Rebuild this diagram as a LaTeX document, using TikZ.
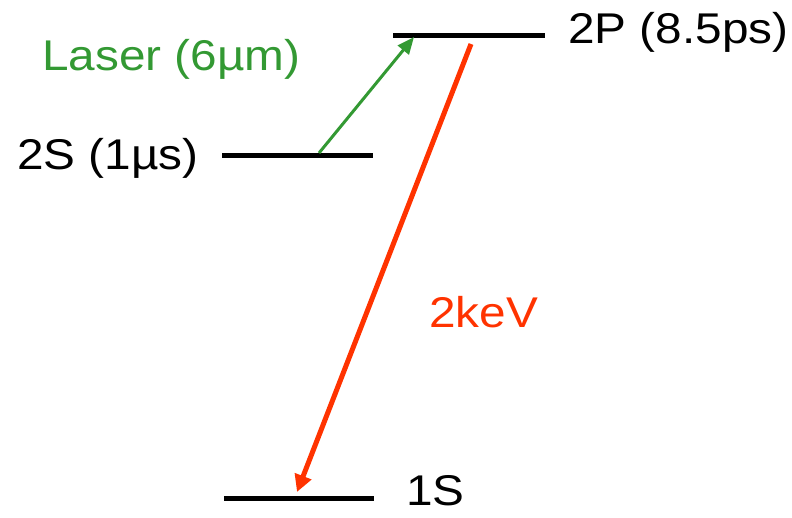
\documentclass[tikz,border=0pt]{standalone}
\usepackage{fontspec}
\setmainfont{Liberation Sans}
\usetikzlibrary{arrows.meta}
\definecolor{lasergreen}{RGB}{51,153,51}
\definecolor{xred}{RGB}{255,51,0}
\newcommand{\wide}[1]{\scalebox{1.11}[1]{#1}}
\begin{document}
\begin{tikzpicture}[x=1pt,y=-1pt,
  level/.style={fill=black,draw=none,inner sep=0pt,minimum height=5pt},
  lbl/.style={anchor=base west,inner sep=0pt,font=\fontsize{43}{43}\selectfont}]
\useasboundingbox (0,0) rectangle (792,517);
\node[level,minimum width=152pt] (p2) at (469,35) {};
\node[level,minimum width=151pt] (s2) at (297.5,155) {};
\node[level,minimum width=150pt] (s1) at (299,498) {};
\coordinate (gstart) at (319,153);
\coordinate (gend) at (414,37);
\coordinate (rstart) at (471,44);
\coordinate (rend) at (297,492);
\draw[lasergreen,line width=3pt,-{Triangle[length=17pt,width=14pt]}] (gstart) -- (gend);
\draw[xred,line width=5pt,-{Triangle[length=17pt,width=17pt]}] (rstart) -- (rend);
\node[lbl] (tp2) at (568,43) {\wide{2P (8.5ps)}};
\node[lbl] (ts2) at (17,169) {\wide{2S (1µs)}};
\node[lbl,text=lasergreen] (tlas) at (42,70) {\wide{Laser (6µm)}};
\node[lbl,text=xred] (tkev) at (429,327) {\wide{2keV}};
\node[lbl] (ts1) at (406,505) {\wide{1S}};
\end{tikzpicture}
\end{document}
